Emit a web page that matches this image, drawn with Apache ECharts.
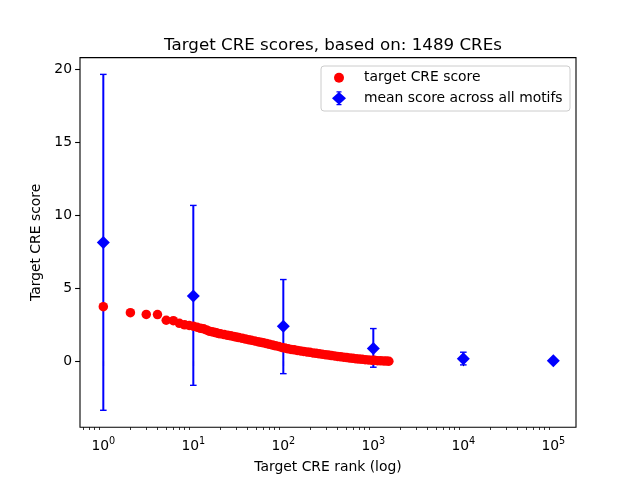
<!DOCTYPE html>
<html>
<head>
<meta charset="utf-8">
<script src="https://cdn.jsdelivr.net/npm/echarts@6/dist/echarts.min.js"></script>
<style>html,body{margin:0;padding:0;background:#fff;}#c{width:640px;height:480px;}</style>
</head>
<body>
<div id="c"></div>
<script>
// ---- data ----
var titleText = 'Target CRE scores, based on: 1489 CREs';
var xAxisName = 'Target CRE rank (log)';
var yAxisName = 'Target CRE score';
var scoreName = 'target CRE score';
var meanName = 'mean score across all motifs';

var creRanks = [1,2,3,4,5,6,7,8,9,10,11,12,13,14,15,16,17,18,19,20,
  22,24,26,28,30,32,35,38,41,44,48,52,56,60,65,70,76,82,89,96,104,113,122,132,143,155,168,182,197,
  213,231,250,270,292,316,342,370,400,433,468,506,548,593,641,694,751,812,879,951,1029,1113,1204,1303,1400,1489];
var creScores = [3.74,3.33,3.21,3.20,2.81,2.78,2.60,2.50,2.45,2.40,2.33,2.26,2.22,2.15,2.06,2.03,1.99,1.95,1.91,1.88,
  1.83,1.78,1.74,1.70,1.66,1.62,1.57,1.52,1.48,1.44,1.39,1.34,1.30,1.26,1.21,1.16,1.11,1.06,1.01,0.95,0.90,0.85,0.81,0.78,0.74,0.71,0.67,0.64,0.61,
  0.57,0.54,0.51,0.48,0.45,0.42,0.39,0.36,0.33,0.30,0.28,0.25,0.22,0.20,0.17,0.15,0.13,0.11,0.09,0.07,0.06,0.04,0.03,0.02,0.01,0.00];

var meanRanks = [1, 10, 100, 1000, 10000, 100000];
var meanScores = [8.14, 4.48, 2.40, 0.87, 0.17, 0.03];
var meanLow = [-3.36, -1.65, -0.85, -0.41, -0.25, -0.02];
var meanHigh = [19.66, 10.68, 5.60, 2.24, 0.62, 0.08];

var xMajorTicks = [1, 10, 100, 1000, 10000, 100000];
var xMinorTicks = [0.6,0.7,0.8,0.9,2,3,4,5,6,7,8,9,20,30,40,50,60,70,80,90,200,300,400,500,600,700,800,900,
  2000,3000,4000,5000,6000,7000,8000,9000,20000,30000,40000,50000,60000,70000,80000,90000];
var yTicks = [0, 5, 10, 15, 20];

// ---- chart ----
var FONT = 'DejaVu Sans';
var BLUE = '#0000ff', RED = '#ff0000';
var scoreData = creRanks.map(function (r, i) { return [r, creScores[i]]; });
var meanData = meanRanks.map(function (r, i) { return [r, meanScores[i]]; });
var errData = meanRanks.map(function (r, i) { return [r, meanLow[i], meanHigh[i]]; });

var xMin = Math.pow(10, -0.259), xMax = Math.pow(10, 5.252);

var chart = echarts.init(document.getElementById('c'), null, {renderer: 'canvas'});
chart.setOption({
  animation: false,
  backgroundColor: '#fff',
  title: {
    text: titleText, left: 328, top: 32, textAlign: 'center',
    textStyle: {fontFamily: FONT, fontSize: 16.7, fontWeight: 'normal', color: '#000'}
  },
  graphic: [{
    type: 'rect', z: 3, left: 320.5, top: 65.5,
    shape: {width: 249, height: 45, r: 3},
    style: {fill: 'rgba(255,255,255,0.8)', stroke: '#cccccc', lineWidth: 1}
  }],
  legend: [{
    left: 334, top: 70.7, padding: 0, z: 5, selectedMode: false,
    itemWidth: 40, itemHeight: 10,
    data: [{name: scoreName, icon: 'circle'}],
    textStyle: {fontFamily: FONT, fontSize: 13.9, color: '#000', lineHeight: 14}
  }, {
    left: 332, top: 91.3, padding: 0, z: 5, selectedMode: false,
    itemWidth: 40, itemHeight: 14, symbolKeepAspect: true,
    data: [{name: meanName, icon: 'path://M0,7 L7,0.6 L14,7 L7,13.4 Z M4.5,0 L9.5,0 L9.5,1.2 L4.5,1.2 Z M4.5,12.8 L9.5,12.8 L9.5,14 L4.5,14 Z M6.3,0 L7.7,0 L7.7,14 L6.3,14 Z'}],
    textStyle: {fontFamily: FONT, fontSize: 13.9, color: '#000', lineHeight: 14}
  }],
  grid: {left: 80, right: 64, top: 57.6, bottom: 52.8, show: true, borderColor: '#000', borderWidth: 1.1, containLabel: false},
  xAxis: [{
    type: 'log', logBase: 10, min: xMin, max: xMax,
    name: xAxisName, nameLocation: 'middle', nameGap: 33,
    nameTextStyle: {fontFamily: FONT, fontSize: 13.9, color: '#000'},
    axisLine: {show: false},
    splitLine: {show: false},
    axisTick: {show: true, length: 4.9, lineStyle: {color: '#000', width: 1.1}, customValues: xMajorTicks},
    axisLabel: {
      customValues: xMajorTicks, margin: 9, color: '#000',
      formatter: function (v) { return '{b|10}{s|' + Math.round(Math.log10(v)) + '}'; },
      rich: {
        b: {fontFamily: FONT, fontSize: 13.9, color: '#000', lineHeight: 17, verticalAlign: 'bottom'},
        s: {fontFamily: FONT, fontSize: 9.7, color: '#000', lineHeight: 17, verticalAlign: 'top', padding: [0, 0, 6, 0]}
      }
    }
  }, {
    type: 'log', logBase: 10, min: xMin, max: xMax, gridIndex: 0, position: 'bottom', offset: 0,
    axisLine: {show: false}, splitLine: {show: false},
    axisTick: {show: true, length: 2.8, lineStyle: {color: '#000', width: 0.8}, customValues: xMinorTicks},
    axisLabel: {show: false}
  }],
  yAxis: {
    type: 'value', min: -4.52, max: 20.81,
    name: yAxisName, nameLocation: 'middle', nameGap: 34,
    nameTextStyle: {fontFamily: FONT, fontSize: 13.9, color: '#000'},
    axisLine: {show: false},
    splitLine: {show: false},
    axisTick: {show: true, length: 4.9, lineStyle: {color: '#000', width: 1.1}, customValues: yTicks},
    axisLabel: {customValues: yTicks, margin: 8, fontFamily: FONT, fontSize: 13.9, color: '#000'}
  },
  series: [{
    name: meanName, type: 'custom', z: 1, xAxisIndex: 0,
    data: errData, encode: {x: 0, y: [1, 2]},
    itemStyle: {color: BLUE},
    renderItem: function (params, api) {
      var x = api.value(0), lo = api.value(1), hi = api.value(2);
      var p1 = api.coord([x, lo]), p2 = api.coord([x, hi]);
      var cap = 3.3;
      return {type: 'group', children: [
        {type: 'line', shape: {x1: p1[0], y1: p1[1], x2: p2[0], y2: p2[1]}, style: {stroke: BLUE, lineWidth: 2}},
        {type: 'line', shape: {x1: p1[0] - cap, y1: p1[1], x2: p1[0] + cap, y2: p1[1]}, style: {stroke: BLUE, lineWidth: 1.4}},
        {type: 'line', shape: {x1: p2[0] - cap, y1: p2[1], x2: p2[0] + cap, y2: p2[1]}, style: {stroke: BLUE, lineWidth: 1.4}}
      ]};
    }
  }, {
    name: meanName, type: 'scatter', z: 2, xAxisIndex: 0,
    data: meanData, symbol: 'diamond', symbolSize: 13,
    itemStyle: {color: BLUE, opacity: 1}
  }, {
    name: scoreName, type: 'scatter', z: 3, xAxisIndex: 0,
    data: scoreData, symbol: 'circle', symbolSize: 9.5,
    itemStyle: {color: RED, opacity: 1}
  }]
});
</script>
</body>
</html>
